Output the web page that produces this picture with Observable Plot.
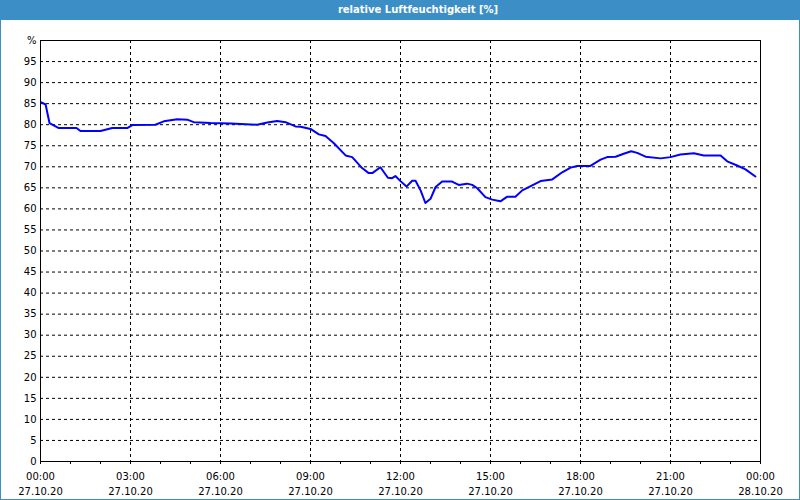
<!DOCTYPE html>
<html>
<head>
<meta charset="utf-8">
<script src="https://cdn.jsdelivr.net/npm/d3@7"></script>
<script src="https://cdn.jsdelivr.net/npm/@observablehq/plot@0.6"></script>
<style>
  html, body { margin: 0; padding: 0; background: #fff; }
  #wrap { position: relative; width: 798px; height: 499px; border: 1px solid #3c8fc6; border-top: none; background: #fff; }
  #title { height: 20px; background: #3c8fc6; color: #fff; font: bold 10px "DejaVu Sans", sans-serif; line-height: 20px; text-align: center; padding-left: 36px; }
  #chart svg { display: block; }
</style>
</head>
<body>
<div id="wrap">
  <div id="title">relative Luftfeuchtigkeit [%]</div>
  <div id="chart"></div>
</div>
<script>
// time in hours since 27.10.20 00:00
const hours = [0.03,0.17,0.3,0.61,1.2,1.33,2.0,2.39,2.89,3.06,3.83,4.11,4.56,4.89,5.11,5.67,6.33,7.22,7.56,7.89,8.17,8.5,8.67,9.0,9.28,9.5,9.78,10.17,10.39,10.72,10.94,11.06,11.33,11.58,11.72,11.83,12.0,12.2,12.39,12.5,12.67,12.83,13.0,13.17,13.39,13.72,13.94,14.22,14.39,14.56,14.83,15.06,15.33,15.56,15.83,16.06,16.39,16.67,17.06,17.39,17.67,17.89,18.33,18.67,18.89,19.17,19.44,19.69,19.89,20.17,20.67,21.0,21.33,21.78,22.11,22.67,22.89,23.22,23.5,23.83];
const humidity = [85.3,84.8,80.4,79.2,79.2,78.5,78.5,79.2,79.2,79.9,80.0,80.8,81.3,81.2,80.6,80.4,80.3,80.0,80.5,80.9,80.6,79.6,79.5,79.0,77.7,77.3,75.6,72.7,72.3,69.7,68.5,68.5,69.9,67.4,67.3,67.8,66.6,65.3,66.7,66.7,64.4,61.4,62.4,65.2,66.5,66.5,65.7,66.0,65.7,64.9,62.8,62.2,61.8,62.9,62.9,64.4,65.6,66.6,67.0,68.7,69.8,70.2,70.2,71.7,72.3,72.4,73.1,73.7,73.3,72.4,72.0,72.3,72.9,73.2,72.7,72.7,71.3,70.3,69.4,67.7];
const tickHours = [0,3,6,9,12,15,18,21,24];
const tickTimes = ["00:00","03:00","06:00","09:00","12:00","15:00","18:00","21:00","00:00"];
const tickDates = ["27.10.20","27.10.20","27.10.20","27.10.20","27.10.20","27.10.20","27.10.20","27.10.20","28.10.20"];
const yTicks = d3.range(0, 101, 5);

const data = hours.map((h, i) => ({h, v: humidity[i]}));
const dash = "3,3";

const chart = Plot.plot({
  width: 798,
  height: 479,
  marginLeft: 39,
  marginRight: 39,
  marginTop: 20,
  marginBottom: 38,
  style: {background: "#fff", color: "#000", fontFamily: "'DejaVu Sans', sans-serif", fontSize: "10px", overflow: "visible"},
  x: {type: "linear", domain: [0, 24], axis: null, label: null},
  y: {domain: [0, 100], axis: null, label: null},
  marks: [
    Plot.gridY(d3.range(5, 100, 5), {stroke: "#000", strokeOpacity: 1, strokeDasharray: dash}),
    Plot.gridX(d3.range(3, 24, 3), {stroke: "#000", strokeOpacity: 1, strokeDasharray: dash}),
    Plot.axisY(yTicks, {tickSize: 0, tickPadding: 4, label: null, tickFormat: d => d === 100 ? "%" : String(d), fill: "#000"}),
    Plot.axisX(d3.range(0, 25, 1), {tickSize: 3, label: null, tickFormat: () => "", stroke: "#000"}),
    Plot.axisX(tickHours, {tickSize: 0, tickPadding: 8, label: null, fill: "#000", lineHeight: 1.5,
      tickFormat: (d, i) => tickTimes[i] + "\n" + tickDates[i]}),
    Plot.line(data, {x: "h", y: "v", stroke: "#0000ff", strokeWidth: 2}),
    Plot.frame({stroke: "#000"})
  ]
});
document.getElementById("chart").appendChild(chart);
</script>
</body>
</html>
